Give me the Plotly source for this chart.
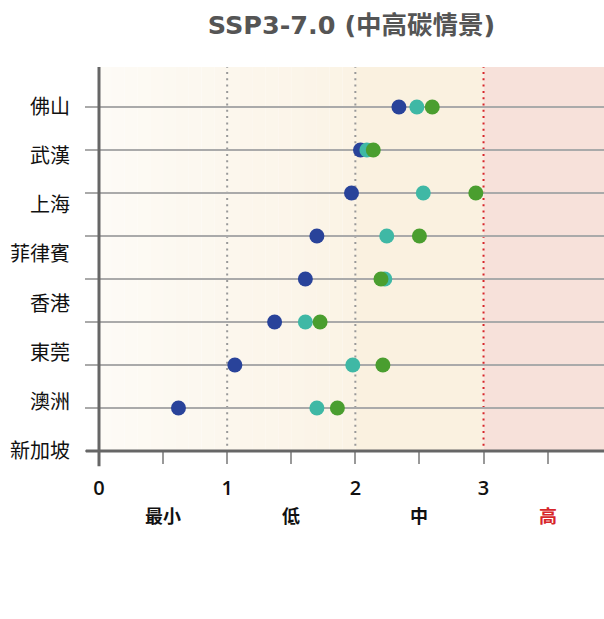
import plotly.graph_objects as go

cities = ["佛山", "武漢", "上海", "菲律賓", "香港", "東莞", "澳洲", "新加坡"]
row_idx = [0, 1, 2, 3, 4, 5, 6, 7]
blue_vals = [2.34, 2.04, 1.97, 1.70, 1.61, 1.37, 1.06, 0.62]
teal_vals = [2.48, 2.09, 2.53, 2.245, 2.23, 1.61, 1.98, 1.70]
green_vals = [2.60, 2.14, 2.94, 2.50, 2.20, 1.725, 2.215, 1.86]
x_ticks = [0, 0.5, 1, 1.5, 2, 2.5, 3, 3.5]
x_ticktext = ["0", "", "1", "", "2", "", "3", ""]
level_pos = [0.5, 1.5, 2.5, 3.5]
level_text = ["最小", "低", "中", "高"]
level_colors = ["#111111", "#111111", "#111111", "#d7262b"]

FONT = "'Open Sans', 'Noto Sans CJK TC', sans-serif"
TFONT = "'DejaVu Sans', 'Noto Sans CJK TC', sans-serif"
CJK = "'Noto Sans CJK TC', sans-serif"
XMAX = 3.94
YTOP = -0.93
YBOT = 8

fig = go.Figure()

for vals, col, name in [(blue_vals, "#29439a", "b"), (teal_vals, "#3fb8a5", "t"), (green_vals, "#4a9e2f", "g")]:
    fig.add_trace(go.Scatter(x=vals, y=row_idx, mode="markers", name=name,
                             marker=dict(size=15, color=col, line=dict(width=0)),
                             showlegend=False, hoverinfo="skip"))

fig.add_trace(go.Scatter(x=[None], y=[None], yaxis="y2", showlegend=False))

shapes = []
def lerp(c1, c2, t):
    return tuple(round(a + (b - a) * t) for a, b in zip(c1, c2))
c0 = (253, 251, 246)
c1 = (251, 243, 229)
n = 20
for i in range(n):
    xa = 2 * i / n
    xb = 2 * (i + 1) / n
    c = lerp(c0, c1, (i + 0.5) / n)
    shapes.append(dict(type="rect", xref="x", yref="y", x0=xa, x1=xb, y0=YTOP, y1=YBOT,
                       fillcolor="rgb(%d,%d,%d)" % c, line=dict(width=0), layer="below"))
shapes.append(dict(type="rect", xref="x", yref="y", x0=2, x1=3, y0=YTOP, y1=YBOT,
                   fillcolor="#faf1e0", line=dict(width=0), layer="below"))
shapes.append(dict(type="rect", xref="x", yref="y", x0=3, x1=XMAX, y0=YTOP, y1=YBOT,
                   fillcolor="#f7e1da", line=dict(width=0), layer="below"))
for xv, col in [(1, "#999999"), (2, "#999999"), (3, "#d7262b")]:
    shapes.append(dict(type="line", xref="x", yref="y", x0=xv, x1=xv, y0=YTOP - 0.03, y1=YBOT,
                       line=dict(color=col, width=2, dash="2px,4.3px"), layer="below"))
shapes.append(dict(type="line", xref="paper", yref="paper", x0=0, x1=0, y0=-0.04, y1=1,
                   line=dict(color="#666666", width=3)))
shapes.append(dict(type="line", xref="paper", yref="paper", x0=-0.026, x1=1, y0=0, y1=0,
                   line=dict(color="#666666", width=3)))

annotations = []
for p, t, c in zip(level_pos, level_text, level_colors):
    annotations.append(dict(x=p, y=-0.206, xref="x", yref="paper", text="<b>%s</b>" % t,
                            showarrow=False, font=dict(family=CJK, size=18, color=c)))

label_pos = [i * 8 / 7 for i in range(len(cities))]

fig.update_layout(
    width=604, height=619,
    margin=dict(l=99, r=0, t=67, b=168),
    paper_bgcolor="white", plot_bgcolor="white",
    title=dict(text="<b>SSP3-7.0 (中高碳情景)</b>", x=0.5, xref="paper", y=1 - 25 / 619, yref="container",
               xanchor="center", yanchor="middle",
               font=dict(family=TFONT, size=25.5, color="#555555")),
    xaxis=dict(range=[0, XMAX], tickvals=x_ticks, ticktext=x_ticktext, ticks="outside",
               ticklen=12, tickcolor="#999999", tickwidth=1.5, showgrid=False, zeroline=False,
               showline=False, ticklabelstandoff=7,
               tickfont=dict(family=FONT, size=20, color="#111111", weight=600)),
    yaxis=dict(range=[YBOT, YTOP], tickvals=list(range(0, 9)), showticklabels=False,
               ticks="outside", ticklen=13, tickcolor="#aaaaaa", tickwidth=2,
               showgrid=True, gridcolor="#aaaaaa", gridwidth=2, zeroline=False, showline=False),
    yaxis2=dict(range=[YBOT, YTOP], overlaying="y", side="left", tickvals=label_pos,
                ticktext=cities, ticks="outside", ticklen=14, tickcolor="rgba(0,0,0,0)",
                ticklabelstandoff=10,
                showgrid=False, zeroline=False, showline=False,
                tickfont=dict(family=CJK, size=20, color="#111111")),
    shapes=shapes,
    annotations=annotations,
)

fig.write_html("out.html", config={"displayModeBar": False},
               post_script="document.body.style.margin='0';document.body.style.padding='0';")
